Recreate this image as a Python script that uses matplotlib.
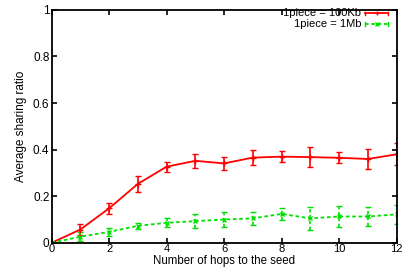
import matplotlib
matplotlib.use("Agg")
import matplotlib.pyplot as plt
from matplotlib.lines import Line2D

hops = [0, 1, 2, 3, 4, 5, 6, 7, 8, 9, 10, 11, 12]
ratio_100kb = [0.0, 0.057, 0.148, 0.253, 0.327, 0.352, 0.341, 0.366, 0.370, 0.368, 0.365, 0.360, 0.380]
err_100kb = [0.0, 0.022, 0.024, 0.035, 0.022, 0.029, 0.028, 0.034, 0.024, 0.043, 0.024, 0.042, 0.047]
ratio_1mb = [0.0, 0.026, 0.047, 0.073, 0.086, 0.093, 0.100, 0.105, 0.124, 0.105, 0.113, 0.113, 0.122]
err_1mb = [0.0, 0.019, 0.016, 0.014, 0.019, 0.029, 0.034, 0.029, 0.025, 0.050, 0.044, 0.042, 0.040]
labels = ["1piece = 100Kb", "1piece = 1Mb"]
xticks = [0, 2, 4, 6, 8, 10, 12]
yticks = [0, 0.2, 0.4, 0.6, 0.8, 1.0]
yticklabels = ["0", "0.2", "0.4", "0.6", "0.8", "1"]

plt.rcParams['font.family'] = ['Liberation Sans', 'DejaVu Sans']
fig = plt.figure(figsize=(4.06, 2.68), dpi=100)
ax = fig.add_axes([0.127, 0.094, 0.850, 0.869])

red = '#ff0000'
green = '#00e000'
dash = (0, (2, 1.5))
ax.errorbar(hops, ratio_100kb, yerr=err_100kb, color=red, lw=1.3, marker='+', ms=4,
            capsize=2, elinewidth=1.2, capthick=1.0)
eb = ax.errorbar(hops, ratio_1mb, yerr=err_1mb, color=green, lw=1.3, ls=dash, marker='x', ms=3,
                 capsize=2, elinewidth=1.2, capthick=1.0)
for coll in eb[2]:
    coll.set_linestyle(dash)

ax.set_xlim(0, 12)
ax.set_ylim(0, 1)
ax.set_xticks(xticks)
ax.set_yticks(yticks)
ax.set_yticklabels(yticklabels)
ax.tick_params(direction='in', top=True, right=True, length=3.5, width=1.2, labelsize=8.5, pad=1.5)
ax.tick_params(axis='x', labelsize=8, pad=1)
for s in ax.spines.values():
    s.set_linewidth(1.3)
ax.set_xlabel("Number of hops to the seed", fontsize=8.3, va='center')
ax.xaxis.set_label_coords(0.5, -0.079)
ax.set_ylabel("Average sharing ratio", fontsize=8.5, labelpad=4)

# legend in gnuplot style
ly = [0.985, 0.940]
lmarks = ['+', 'x']
lcols = [red, green]
lstyles = ['-', dash]
for lab, yy, c, m, st in zip(labels, ly, lcols, lmarks, lstyles):
    ax.text(0.897, yy, lab, transform=ax.transAxes, ha='right', va='center', fontsize=8)
    ax.add_line(Line2D([0.909, 0.975], [yy, yy], transform=ax.transAxes, color=c, lw=1.3, ls=st))
    for xx in (0.909, 0.975):
        ax.add_line(Line2D([xx, xx], [yy - 0.008, yy + 0.008], transform=ax.transAxes, color=c, lw=1))
    ax.add_line(Line2D([0.942], [yy], transform=ax.transAxes, color=c, marker=m, ms=3))

fig.savefig("out.png", dpi=100)
